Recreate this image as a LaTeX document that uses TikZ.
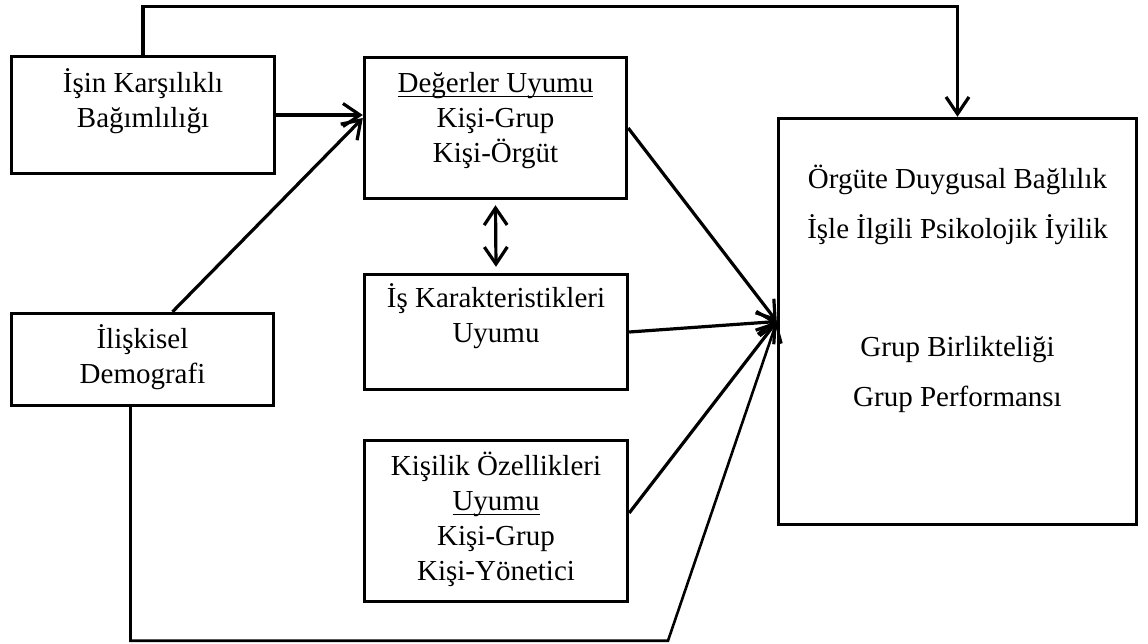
\documentclass[tikz,border=0pt]{standalone}
\usepackage{fontspec}
\setmainfont{Liberation Serif}
\usetikzlibrary{arrows.meta,calc}
% underline that sits just below the baseline, through the descenders
\newcommand\ulword[1]{\setbox0\hbox{#1}\rlap{\rule[-4.5pt]{\wd0}{1.4pt}}\box0}
\begin{document}
\begin{tikzpicture}[x=1pt,y=-1pt,
  box/.style={draw, line width=3.4pt, inner sep=0pt},
  txt/.style={align=center, inner sep=0pt, anchor=north,
    font=\fontsize{29}{35}\selectfont},
  tip/.tip={Straight Barb[length=17pt,width=23pt]},
  conn/.style={line width=3.2pt, -tip},
  thinconn/.style={line width=2.6pt, -tip}]
\useasboundingbox (0,0) rectangle (1148,643);

% boxes
\node[box, minimum width=263pt, minimum height=117pt] (A) at (143,115) {};
\node[box, minimum width=262pt, minimum height=141pt] (B) at (495.5,128) {};
\node[box, minimum width=263pt, minimum height=115pt] (C) at (496,332) {};
\node[box, minimum width=263pt, minimum height=161pt] (D) at (496,521) {};
\node[box, minimum width=262pt, minimum height=92pt] (E) at (142.5,359.5) {};
\node[box, minimum width=358pt, minimum height=406pt] (F) at (957.5,321.5) {};

% box texts
\node[txt] (At) at ($(A.north)+(0,13)$) {\strut İşin Karşılıklı\\Bağımlılığı};
\node[txt] (Bt) at ($(B.north)+(0,12)$) {\strut\ulword{Değerler Uyumu}\\Kişi-Grup\\Kişi-Örgüt};
\node[txt] (Ct) at ($(C.north)+(0,10)$) {\strut İş Karakteristikleri\\Uyumu};
\node[txt] (Dt) at ($(D.north)+(0,12)$) {\strut Kişilik Özellikleri\\\ulword{Uyumu}\\Kişi-Grup\\Kişi-Yönetici};
\node[txt] (Et) at ($(E.north)+(0,12)$) {\strut İlişkisel\\Demografi};
\node[txt] (Ft) at ($(F.north)+(0,47)$) {\strut Örgüte Duygusal Bağlılık\\[15pt]İşle İlgili Psikolojik İyilik\\[83pt]Grup Birlikteliği\\[15pt]Grup Performansı};

% connectors
\draw[conn] (A.east) -- (A.east -| B.west);
\draw[conn] ($(E.north)+(30,0)$) -- ($(B.west)+(0,-10)$);
\draw[conn] (A.north) -- ++(0,-48.5) -| (F.north);
\draw[conn, tip-tip] ($(B.south)+(0,5)$) -- ($(C.north)+(0,-6)$);
\draw[conn] (B.east) -- (F.west);
\draw[conn] (C.east) -- (F.west);
\draw[conn] ($(D.east)+(0,-8)$) -- (F.west);
\draw[thinconn] ($(E.south)+(-12,0)$) -- ++(0,233.5) -- ++(537.5,0) -- (F.west);
\end{tikzpicture}
\end{document}
